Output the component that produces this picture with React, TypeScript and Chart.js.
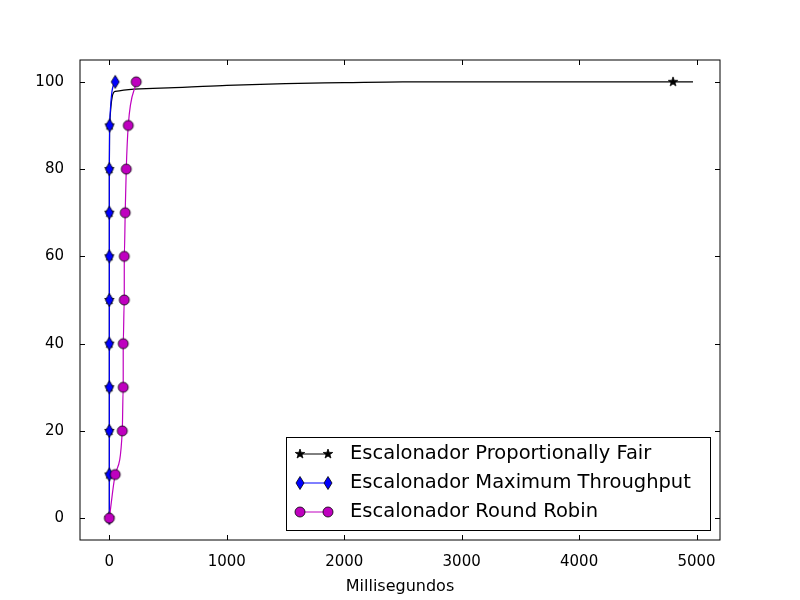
import React, { useEffect, useRef } from "react";
import { Chart, registerables } from "chart.js";

Chart.register(...registerables);

const percentiles = [0, 10, 20, 30, 40, 50, 60, 70, 80, 90, 100];
const mtX = [0, 0, 0, 0, 0, 0, 0, 0, 0, 2, 50];
const rrX = [0, 50, 110, 118, 118, 127, 127, 135, 144, 161, 229];
const pfX = [0, 0, 0, 0, 0, 0, 0, 0, 0, 2, 50, 500, 1000, 1500, 2000, 2500, 4800, 4970];
const pfY = [0, 10, 20, 30, 40, 50, 60, 70, 80, 90, 97.8, 98.6, 99.2, 99.6, 99.8, 100, 100, 100];
const pfMarks = [0, 1, 2, 3, 4, 5, 6, 7, 8, 9, 16];
const xTicks = [0, 1000, 2000, 3000, 4000, 5000];
const yTicks = [0, 20, 40, 60, 80, 100];
const names = [
  "Escalonador Proportionally Fair",
  "Escalonador Maximum Throughput",
  "Escalonador Round Robin",
];

const FONT = "'DejaVu Sans', sans-serif";

function markerImage(kind: string, fill: string): HTMLCanvasElement {
  const c = document.createElement("canvas");
  c.width = 18;
  c.height = 18;
  const g = c.getContext("2d")!;
  g.fillStyle = fill;
  g.strokeStyle = "#000";
  g.lineWidth = 0.8;
  g.beginPath();
  if (kind === "star") {
    for (let i = 0; i < 10; i++) {
      const r = i % 2 === 0 ? 5 : 2;
      const a = -Math.PI / 2 + (i * Math.PI) / 5;
      const px = 9 + r * Math.cos(a);
      const py = 9 + r * Math.sin(a);
      i === 0 ? g.moveTo(px, py) : g.lineTo(px, py);
    }
  } else if (kind === "diamond") {
    g.moveTo(9, 2.5);
    g.lineTo(13, 9);
    g.lineTo(9, 15.5);
    g.lineTo(5, 9);
  } else {
    g.arc(9, 9, 5, 0, Math.PI * 2);
  }
  g.closePath();
  g.fill();
  g.stroke();
  return c;
}

const App: React.FC = () => {
  const ref = useRef<HTMLCanvasElement | null>(null);

  useEffect(() => {
    document.body.style.margin = "0";
    const canvas = ref.current;
    if (!canvas) return;
    const star = markerImage("star", "#000");
    const diamond = markerImage("diamond", "#0000ff");
    const circle = markerImage("circle", "#bf00bf");
    const markers = [star, diamond, circle];
    const colors = ["#000000", "#0000ff", "#bf00bf"];

    const frame = {
      id: "frame",
      afterDraw(chart: any) {
        const { ctx, chartArea: a, scales } = chart;
        ctx.save();
        ctx.strokeStyle = "#000";
        ctx.lineWidth = 1;
        ctx.strokeRect(a.left, a.top, a.right - a.left, a.bottom - a.top);
        ctx.beginPath();
        xTicks.forEach((t) => {
          const x = Math.round(scales.x.getPixelForValue(t)) + 0.5;
          ctx.moveTo(x, a.bottom);
          ctx.lineTo(x, a.bottom - 5);
          ctx.moveTo(x, a.top);
          ctx.lineTo(x, a.top + 5);
        });
        yTicks.forEach((t) => {
          const y = Math.round(scales.y.getPixelForValue(t)) + 0.5;
          ctx.moveTo(a.left, y);
          ctx.lineTo(a.left + 5, y);
          ctx.moveTo(a.right, y);
          ctx.lineTo(a.right - 5, y);
        });
        ctx.stroke();
        // legend box
        const bx = 286, by = 437, bw = 424, bh = 93;
        ctx.fillStyle = "#fff";
        ctx.fillRect(bx, by, bw, bh);
        ctx.strokeRect(bx + 0.5, by + 0.5, bw, bh);
        ctx.font = "19.5px " + FONT;
        ctx.textBaseline = "middle";
        names.forEach((n, i) => {
          const y = by + 17 + i * 29;
          ctx.strokeStyle = colors[i];
          ctx.beginPath();
          ctx.moveTo(bx + 14, y);
          ctx.lineTo(bx + 42, y);
          ctx.stroke();
          ctx.drawImage(markers[i], bx + 14 - 9, y - 9);
          ctx.drawImage(markers[i], bx + 42 - 9, y - 9);
          ctx.fillStyle = "#000";
          ctx.fillText(n, bx + 64, y);
        });
        ctx.restore();
      },
    };

    const chart = new Chart(canvas, {
      type: "line",
      data: {
        datasets: [
          {
            label: names[0],
            data: pfX.map((x, i) => ({ x, y: pfY[i] })),
            borderColor: colors[0],
            borderWidth: 1.2,
            pointStyle: star as any,
            pointRadius: pfX.map((_, i) => (pfMarks.includes(i) ? 5 : 0)),
            cubicInterpolationMode: "monotone",
            order: 3,
          },
          {
            label: names[1],
            data: mtX.map((x, i) => ({ x, y: percentiles[i] })),
            borderColor: colors[1],
            borderWidth: 1.2,
            pointStyle: diamond as any,
            pointRadius: 5,
            cubicInterpolationMode: "monotone",
            order: 2,
          },
          {
            label: names[2],
            data: rrX.map((x, i) => ({ x, y: percentiles[i] })),
            borderColor: colors[2],
            borderWidth: 1.2,
            pointStyle: circle as any,
            pointRadius: 5,
            cubicInterpolationMode: "monotone",
            order: 1,
          },
        ],
      },
      options: {
        animation: false,
        responsive: false,
        layout: { padding: { top: 60, right: 80, left: 0, bottom: 0 } },
        plugins: { legend: { display: false }, tooltip: { enabled: false } },
        scales: {
          x: {
            type: "linear",
            min: -250,
            max: 5200,
            afterBuildTicks: (s: any) => {
              s.ticks = xTicks.map((v) => ({ value: v }));
            },
            afterFit: (s: any) => {
              s.height = 60;
            },
            grid: { display: false },
            border: { display: false },
            ticks: {
              color: "#000",
              font: { family: FONT, size: 15 },
              padding: 5,
              callback: (v: any) => String(v),
            },
            title: {
              display: true,
              text: "Millisegundos",
              color: "#000",
              font: { family: FONT, size: 16 },
              padding: { top: 0 },
            },
          },
          y: {
            min: -5,
            max: 105,
            afterBuildTicks: (s: any) => {
              s.ticks = yTicks.map((v) => ({ value: v }));
            },
            afterFit: (s: any) => {
              s.width = 80;
            },
            grid: { display: false },
            border: { display: false },
            ticks: {
              color: "#000",
              font: { family: FONT, size: 15 },
              padding: 8,
              callback: (v: any) => String(v),
            },
          },
        },
      },
      plugins: [frame],
    });
    return () => chart.destroy();
  }, []);

  return <canvas ref={ref} width={800} height={600} style={{ display: "block" }} />;
};

export default App;
